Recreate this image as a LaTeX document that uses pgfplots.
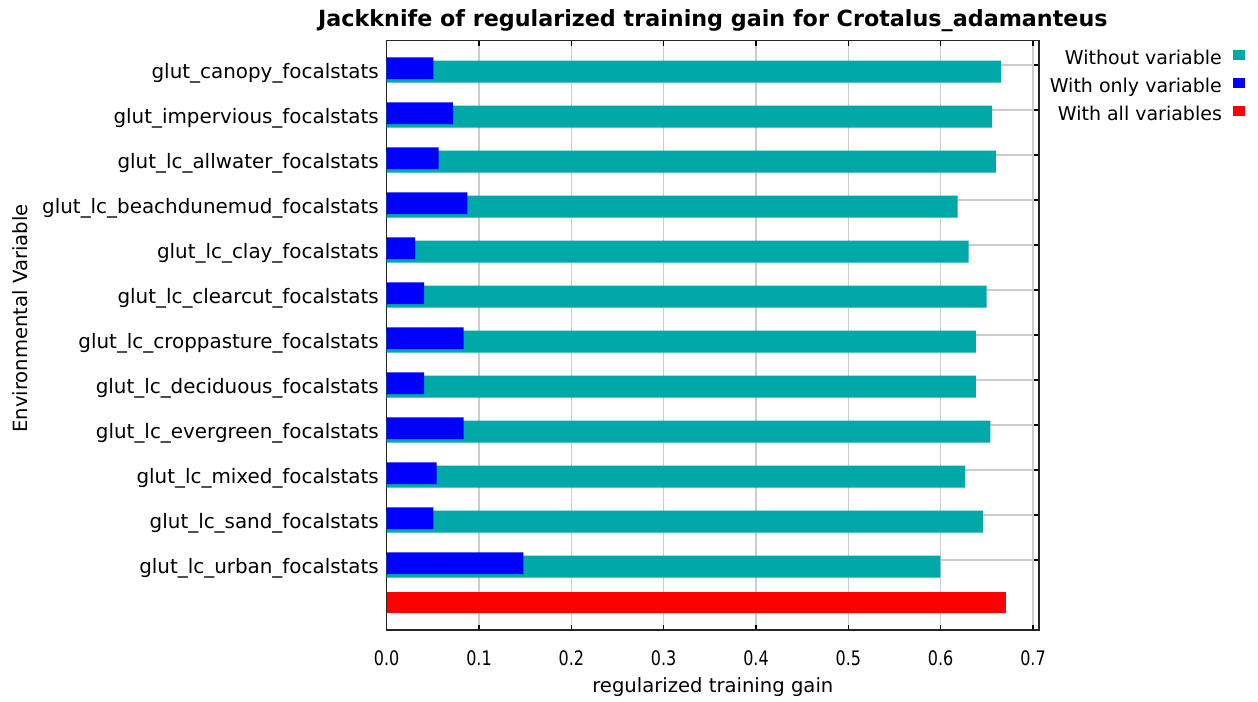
\documentclass[border=0pt]{standalone}
\usepackage{fontspec}
\setmainfont{DejaVu Sans}
\newfontfamily\tickfont{DejaVu Sans}[FakeStretch=0.8]
\usepackage{pgfplots}
\pgfplotsset{compat=1.18}
\definecolor{tealc}{RGB}{0,168,168}
\definecolor{bluec}{RGB}{0,0,255}
\definecolor{redc}{RGB}{255,0,0}
\newcommand{\lab}{\fontsize{19.6bp}{23bp}\selectfont}
\newcommand{\ylab}{\fontsize{19.9bp}{23bp}\selectfont}
\begin{document}
\begin{tikzpicture}
\path[use as bounding box] (0bp,0bp) rectangle (1258bp,702bp);
\begin{axis}[
  at={(386.7bp,72bp)}, anchor=south west,
  scale only axis, width=652.3bp, height=589.5bp,
  xmin=0, xmax=0.7065,
  ymin=-0.547, ymax=12.553, y dir=reverse,
  xtick={0,0.1,0.2,0.3,0.4,0.5,0.6,0.7},
  xticklabels={0.0,0.1,0.2,0.3,0.4,0.5,0.6,0.7},
  ytick={0,1,2,3,4,5,6,7,8,9,10,11},
  yticklabels={glut\_canopy\_focalstats,glut\_impervious\_focalstats,glut\_lc\_allwater\_focalstats,glut\_lc\_beachdunemud\_focalstats,glut\_lc\_clay\_focalstats,glut\_lc\_clearcut\_focalstats,glut\_lc\_croppasture\_focalstats,glut\_lc\_deciduous\_focalstats,glut\_lc\_evergreen\_focalstats,glut\_lc\_mixed\_focalstats,glut\_lc\_sand\_focalstats,glut\_lc\_urban\_focalstats},
  tick align=inside,
  major tick length=5bp,
  tick style={black, line width=1.3bp},
  xmajorgrids, ymajorgrids,
  grid style={black!20, line width=1.3bp},
  axis line style={black!85, line width=1.4bp},
  xticklabel style={font=\tickfont\fontsize{20bp}{24bp}\selectfont, anchor=base, yshift=-35bp, inner sep=0pt},
  yticklabel style={font=\ylab, anchor=base east, xshift=-7.7bp, yshift=-13.3bp, inner sep=0pt},
  title={Jackknife of regularized training gain for Crotalus\_adamanteus},
  every axis title/.style={font=\bfseries\fontsize{22.25bp}{26bp}\selectfont, at={(axis description cs:0.5,1)}, anchor=base, yshift=13.8bp, inner sep=0pt},
  xlabel={regularized training gain},
  every axis x label/.style={font=\lab, at={(axis description cs:0.5,0)}, anchor=base, yshift=-62bp, inner sep=0pt},
  ylabel={Environmental Variable},
  every axis y label/.style={font=\lab, at={(axis description cs:-0.5514,0.5284)}, rotate=90, anchor=base, inner sep=0pt},
  legend style={draw=none, fill=none, inner sep=0pt, outer sep=0pt,
    at={(axis description cs:1.3158,0.9839)}, anchor=north east,
    column sep=11.6bp, row sep=8bp, font=\fontsize{19bp}{23bp}\selectfont,
    cells={anchor=base east},
    nodes={inner sep=0pt, text height=15bp, text depth=5bp}},
  legend plot pos=right,
  legend image code/.code={\fill[#1] (0bp,5bp) rectangle (11.5bp,15bp);},
]
\addplot[xbar, bar shift=0pt, bar width=0.489, fill=tealc, draw=none] coordinates {
  (0.6655,0.147) (0.6556,1.147) (0.6597,2.147) (0.6184,3.147)
  (0.6303,4.147) (0.6498,5.147) (0.6380,6.147) (0.6380,7.147)
  (0.6539,8.147) (0.6265,9.147) (0.6459,10.147) (0.5996,11.147)};
\addlegendentry{Without variable}
\addplot[xbar, bar shift=0pt, bar width=0.482, fill=bluec, draw=none] coordinates {
  (0.0505,0.068) (0.0718,1.068) (0.0563,2.068) (0.0873,3.068)
  (0.0307,4.068) (0.0404,5.068) (0.0834,6.068) (0.0404,7.068)
  (0.0834,8.068) (0.0542,9.068) (0.0505,10.068) (0.1480,11.068)};
\addlegendentry{With only variable}
\addplot[xbar, bar shift=0pt, bar width=0.473, fill=redc, draw=none] coordinates {
  (0.6712,11.939)};
\addlegendentry{With all variables}
\end{axis}
\end{tikzpicture}
\end{document}
